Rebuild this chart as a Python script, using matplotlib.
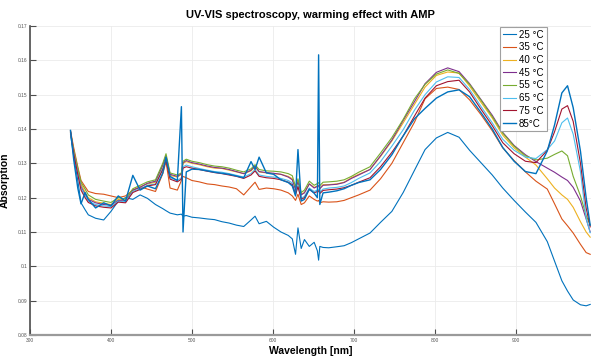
import matplotlib.pyplot as plt
from matplotlib.ticker import FuncFormatter

# wavelength grid [nm]
wl = [350, 354, 359, 363, 368, 372, 381, 391, 400, 409, 418, 427, 436, 445, 455, 464,
      468, 473, 482, 487, 489, 493, 500, 509, 519, 528, 537, 546, 555, 564,
      573, 578, 583, 592, 601, 610, 619, 624, 628, 631, 635, 639, 645, 651, 655,
      656.5, 658, 662, 669, 679, 688, 697, 706, 720, 733, 747, 761, 775, 788, 802,
      816, 830, 843, 857, 871, 884, 898, 912, 925, 939, 948, 957, 964, 971, 980,
      987, 992]

t25 = [0.1385, 0.1320, 0.1250, 0.1185, 0.1165, 0.1150, 0.1140, 0.1135, 0.1160, 0.1190,
       0.1200, 0.1195, 0.1208, 0.1198, 0.1180, 0.1168, 0.1162, 0.1155, 0.1150, 0.1152,
       0.1146, 0.1148, 0.1143, 0.1141, 0.1138, 0.1136, 0.1130, 0.1126, 0.1120, 0.1116,
       0.1135, 0.1146, 0.1124, 0.1131, 0.1114, 0.1100, 0.1090, 0.1080, 0.1035, 0.1112,
       0.1052, 0.1078, 0.1058, 0.1070, 0.1045, 0.1018, 0.1058, 0.1055, 0.1054, 0.1057,
       0.1060, 0.1069, 0.1080, 0.1097, 0.1128, 0.1160, 0.1215, 0.1280, 0.1340, 0.1374,
       0.1390, 0.1376, 0.1338, 0.1302, 0.1266, 0.1228, 0.1192, 0.1158, 0.1128, 0.1072,
       0.1015, 0.0958, 0.0928, 0.0902, 0.0888, 0.0885, 0.0889]

t35 = [0.1395, 0.1345, 0.1290, 0.1250, 0.1232, 0.1218, 0.1212, 0.1210, 0.1205, 0.1200,
       0.1205, 0.1222, 0.1232, 0.1225, 0.1218, 0.1270, 0.1305, 0.1228, 0.1222, 0.1250,
       0.1262, 0.1258, 0.1250, 0.1246, 0.1240, 0.1238, 0.1234, 0.1231, 0.1226, 0.1208,
       0.1232, 0.1245, 0.1224, 0.1228, 0.1226, 0.1222, 0.1214, 0.1205, 0.1192, 0.1210,
       0.1180, 0.1185, 0.1205, 0.1195, 0.1190, 0.1192, 0.1185, 0.1188, 0.1187, 0.1188,
       0.1192, 0.1200, 0.1208, 0.1222, 0.1255, 0.1300, 0.1360, 0.1420, 0.1488, 0.1518,
       0.1522, 0.1515, 0.1485, 0.1442, 0.1395, 0.1345, 0.1308, 0.1275, 0.1248, 0.1225,
       0.1182, 0.1138, 0.1118, 0.1097, 0.1064, 0.1040, 0.1035]

t40 = [0.1392, 0.1335, 0.1280, 0.1240, 0.1215, 0.1200, 0.1188, 0.1184, 0.1180, 0.1195,
       0.1192, 0.1220, 0.1232, 0.1240, 0.1245, 0.1292, 0.1318, 0.1265, 0.1260, 0.1268,
       0.1300, 0.1305, 0.1300, 0.1296, 0.1290, 0.1286, 0.1285, 0.1280, 0.1275, 0.1270,
       0.1278, 0.1290, 0.1275, 0.1272, 0.1270, 0.1268, 0.1262, 0.1255, 0.1225, 0.1245,
       0.1210, 0.1215, 0.1240, 0.1230, 0.1234, 0.1236, 0.1228, 0.1238, 0.1238, 0.1240,
       0.1245, 0.1258, 0.1268, 0.1282, 0.1320, 0.1365, 0.1418, 0.1472, 0.1522, 0.1556,
       0.1566, 0.1563, 0.1525, 0.1478, 0.1432, 0.1382, 0.1345, 0.1318, 0.1295, 0.1255,
       0.1228, 0.1208, 0.1195, 0.1172, 0.1130, 0.1100, 0.1085]

t45 = [0.1390, 0.1330, 0.1275, 0.1232, 0.1210, 0.1195, 0.1185, 0.1180, 0.1178, 0.1192,
       0.1190, 0.1222, 0.1230, 0.1242, 0.1248, 0.1295, 0.1322, 0.1268, 0.1262, 0.1270,
       0.1302, 0.1308, 0.1302, 0.1298, 0.1292, 0.1288, 0.1286, 0.1282, 0.1276, 0.1270,
       0.1280, 0.1292, 0.1276, 0.1273, 0.1271, 0.1268, 0.1260, 0.1252, 0.1222, 0.1248,
       0.1208, 0.1214, 0.1240, 0.1228, 0.1233, 0.1235, 0.1226, 0.1236, 0.1237, 0.1239,
       0.1244, 0.1256, 0.1266, 0.1282, 0.1322, 0.1368, 0.1425, 0.1480, 0.1532, 0.1565,
       0.1578, 0.1567, 0.1532, 0.1486, 0.1440, 0.1390, 0.1352, 0.1325, 0.1305, 0.1286,
       0.1274, 0.1260, 0.1250, 0.1230, 0.1190, 0.1138, 0.1100]

t55 = [0.1390, 0.1338, 0.1285, 0.1245, 0.1225, 0.1208, 0.1195, 0.1190, 0.1186, 0.1200,
       0.1196, 0.1226, 0.1236, 0.1246, 0.1252, 0.1300, 0.1328, 0.1272, 0.1266, 0.1272,
       0.1306, 0.1312, 0.1306, 0.1302, 0.1296, 0.1292, 0.1290, 0.1286, 0.1280, 0.1275,
       0.1284, 0.1296, 0.1282, 0.1278, 0.1277, 0.1275, 0.1270, 0.1264, 0.1232, 0.1255,
       0.1215, 0.1222, 0.1248, 0.1236, 0.1241, 0.1244, 0.1235, 0.1245, 0.1246, 0.1248,
       0.1252, 0.1262, 0.1274, 0.1290, 0.1330, 0.1375, 0.1428, 0.1488, 0.1530, 0.1560,
       0.1572, 0.1562, 0.1530, 0.1484, 0.1436, 0.1388, 0.1350, 0.1322, 0.1310, 0.1315,
       0.1326, 0.1336, 0.1322, 0.1262, 0.1205, 0.1148, 0.1120]

t65 = [0.1392, 0.1330, 0.1272, 0.1228, 0.1205, 0.1190, 0.1180, 0.1176, 0.1174, 0.1190,
       0.1188, 0.1218, 0.1226, 0.1236, 0.1240, 0.1285, 0.1312, 0.1258, 0.1250, 0.1258,
       0.1290, 0.1295, 0.1290, 0.1285, 0.1280, 0.1276, 0.1274, 0.1270, 0.1265, 0.1260,
       0.1270, 0.1282, 0.1266, 0.1262, 0.1260, 0.1256, 0.1250, 0.1243, 0.1212, 0.1236,
       0.1198, 0.1204, 0.1228, 0.1218, 0.1222, 0.1225, 0.1216, 0.1225, 0.1228, 0.1230,
       0.1234, 0.1244, 0.1256, 0.1272, 0.1305, 0.1350, 0.1398, 0.1455, 0.1500, 0.1537,
       0.1552, 0.1550, 0.1515, 0.1466, 0.1418, 0.1370, 0.1338, 0.1318, 0.1314, 0.1340,
       0.1365, 0.1418, 0.1432, 0.1385, 0.1275, 0.1140, 0.1098]

t75 = [0.1394, 0.1328, 0.1268, 0.1222, 0.1200, 0.1186, 0.1176, 0.1172, 0.1170, 0.1187,
       0.1185, 0.1215, 0.1224, 0.1234, 0.1238, 0.1282, 0.1308, 0.1254, 0.1246, 0.1254,
       0.1286, 0.1290, 0.1286, 0.1282, 0.1277, 0.1273, 0.1270, 0.1266, 0.1262, 0.1256,
       0.1266, 0.1278, 0.1262, 0.1258, 0.1256, 0.1252, 0.1245, 0.1238, 0.1208, 0.1232,
       0.1195, 0.1200, 0.1224, 0.1214, 0.1218, 0.1220, 0.1212, 0.1221, 0.1223, 0.1225,
       0.1229, 0.1236, 0.1245, 0.1258, 0.1290, 0.1332, 0.1380, 0.1438, 0.1490, 0.1526,
       0.1538, 0.1542, 0.1508, 0.1458, 0.1410, 0.1360, 0.1328, 0.1306, 0.1302, 0.1338,
       0.1392, 0.1458, 0.1468, 0.1422, 0.1300, 0.1170, 0.1115]

t85 = [0.1396, 0.1310, 0.1228, 0.1182, 0.1215, 0.1195, 0.1170, 0.1185, 0.1176, 0.1205,
       0.1190, 0.1265, 0.1222, 0.1234, 0.1226, 0.1272, 0.1318, 0.1262, 0.1250, 0.1465,
       0.1100, 0.1275, 0.1283, 0.1282, 0.1278, 0.1274, 0.1271, 0.1268, 0.1263, 0.1258,
       0.1305, 0.1282, 0.1318, 0.1272, 0.1268, 0.1252, 0.1244, 0.1234, 0.1205, 0.1340,
       0.1190, 0.1195, 0.1225, 0.1213, 0.1200, 0.1616, 0.1180, 0.1214, 0.1216, 0.1220,
       0.1226, 0.1236, 0.1244, 0.1252, 0.1282, 0.1325, 0.1380, 0.1430, 0.1460, 0.1490,
       0.1508, 0.1514, 0.1494, 0.1448, 0.1400, 0.1346, 0.1306, 0.1276, 0.1270, 0.1336,
       0.1412, 0.1505, 0.1526, 0.1462, 0.1335, 0.1200, 0.1120]

series = [t25, t35, t40, t45, t55, t65, t75, t85]
labels = ['25 °C', '35 °C', '40 °C', '45 °C', '55 °C', '65 °C', '75 °C', '85°C']
colors = ['#0072BD', '#D95319', '#EDB120', '#7E2F8E', '#77AC30', '#4DBEEE', '#A2142F', '#0072BD']
widths = [0.8, 0.8, 0.8, 0.8, 0.8, 0.8, 0.8, 1.0]

plt.rcParams['font.family'] = ['Liberation Sans', 'DejaVu Sans']

fig = plt.figure(figsize=(5.91, 3.56), dpi=100)
ax = fig.add_axes([0.0508, 0.059, 0.9492, 0.868])

for s, lab, c, w in zip(series, labels, colors, widths):
    ax.plot(wl, s, color=c, linewidth=w, label=lab)

ax.set_xlim(300, 993)
ax.set_ylim(0.08, 0.17)
ax.set_xticks([300, 400, 500, 600, 700, 800, 900])
ax.set_yticks([0.08, 0.09, 0.10, 0.11, 0.12, 0.13, 0.14, 0.15, 0.16, 0.17])
ax.yaxis.set_major_formatter(FuncFormatter(lambda v, p: '%g' % round(v, 2)))
ax.grid(True, color='#ebebeb', linewidth=0.6)
ax.set_axisbelow(True)

# matlab-ish axes: only left and bottom
for side in ['top', 'right']:
    ax.spines[side].set_visible(False)
ax.spines['left'].set_color('#4d4d4d')
ax.spines['left'].set_linewidth(1.2)
ax.spines['bottom'].set_color('#9a9a9a')
ax.spines['bottom'].set_linewidth(1.6)
ax.tick_params(direction='in', length=4, width=0.8, color='#4d4d4d',
               labelsize=3.5, labelcolor='#555555', pad=2)

ax.set_title('UV-VIS spectroscopy, warming effect with AMP', fontsize=8,
             fontweight='bold', pad=6)
ax.set_xlabel('Wavelength [nm]', fontsize=7.5, fontweight='bold', labelpad=2)
ax.set_ylabel('Absorption', fontsize=7.5, fontweight='bold', labelpad=6)

leg = ax.legend(loc='upper left', bbox_to_anchor=(0.838, 0.998), fontsize=7,
                handlelength=1.3, handletextpad=0.35, labelspacing=0.28,
                borderpad=0.3, borderaxespad=0, fancybox=False, framealpha=1)
leg.get_frame().set_edgecolor('#a0a0a0')
leg.get_frame().set_linewidth(0.8)

fig.savefig('out.png', dpi=100)
